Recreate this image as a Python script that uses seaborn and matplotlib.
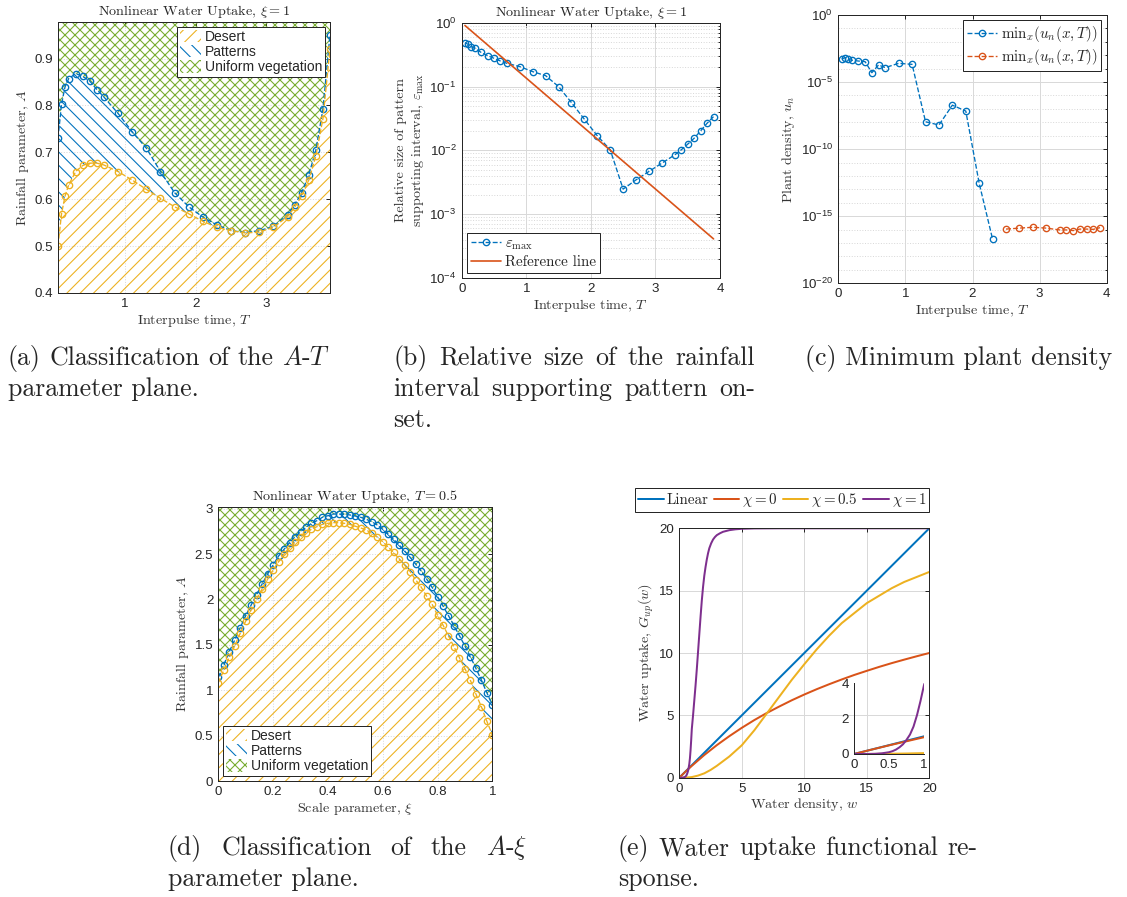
import numpy as np
import matplotlib
matplotlib.use('Agg')
import matplotlib.pyplot as plt
import seaborn as sns
from matplotlib.ticker import FixedLocator, FuncFormatter, NullFormatter

# ---------------- data ----------------
# (a) A-T plane, xi = 1
T_a = [0.05, 0.1, 0.15, 0.2, 0.3, 0.4, 0.5, 0.6, 0.7, 0.9, 1.1, 1.3, 1.5, 1.7, 1.9,
       2.1, 2.3, 2.5, 2.7, 2.9, 3.1, 3.3, 3.4, 3.5, 3.6, 3.7, 3.8, 3.9]
A_pattern_a = [0.730, 0.803, 0.840, 0.857, 0.868, 0.862, 0.852, 0.834, 0.818, 0.783,
               0.744, 0.709, 0.659, 0.614, 0.584, 0.562, 0.545, 0.533, 0.529, 0.533,
               0.542, 0.567, 0.588, 0.614, 0.652, 0.705, 0.792, 0.951]
A_desert_a = [0.501, 0.569, 0.607, 0.630, 0.659, 0.672, 0.677, 0.677, 0.673, 0.659,
              0.641, 0.621, 0.602, 0.584, 0.569, 0.553, 0.540, 0.533, 0.528, 0.530,
              0.540, 0.563, 0.583, 0.607, 0.641, 0.692, 0.772, 0.921]

# (b) relative size of pattern supporting interval
T_b = T_a
eps_max = [0.486, 0.458, 0.420, 0.396, 0.343, 0.305, 0.277, 0.251, 0.231, 0.205,
           0.171, 0.148, 0.0998, 0.056, 0.0307, 0.0169, 0.0102, 0.00247, 0.00345,
           0.00467, 0.0063, 0.0085, 0.0102, 0.0125, 0.0155, 0.0202, 0.0266, 0.0338]
T_ref = [0.05, 3.9]
eps_ref = [0.905, 4.1e-4]

# (c) minimum plant density
T_c1 = [0.05, 0.1, 0.15, 0.2, 0.3, 0.4, 0.5, 0.6, 0.7, 0.9, 1.1, 1.3, 1.5, 1.7, 1.9, 2.1, 2.3]
un_c1 = [5.2e-4, 6.6e-4, 5.0e-4, 4.2e-4, 3.7e-4, 3.3e-4, 5.0e-5, 1.9e-4, 1.2e-4, 2.5e-4,
         2.1e-4, 1.1e-8, 6.3e-9, 1.9e-7, 6.9e-8, 2.8e-13, 1.9e-17]
T_c2 = [2.5, 2.7, 2.9, 3.1, 3.3, 3.4, 3.5, 3.6, 3.7, 3.8, 3.9]
un_c2 = [1.1e-16, 1.3e-16, 1.5e-16, 1.3e-16, 9.5e-17, 9.5e-17, 8.5e-17, 1.1e-16,
         1.1e-16, 1.05e-16, 1.4e-16]

# (d) A-xi plane, T = 0.5
xi_d = [round(0.02 * k, 2) for k in range(51)]
A_pattern_d = [1.143, 1.280, 1.426, 1.555, 1.691, 1.823, 1.941, 2.055, 2.173, 2.283,
               2.382, 2.481, 2.555, 2.628, 2.694, 2.749, 2.798, 2.842, 2.871, 2.908,
               2.926, 2.944, 2.944, 2.941, 2.934, 2.923, 2.908, 2.886, 2.860, 2.823,
               2.776, 2.724, 2.665, 2.603, 2.537, 2.467, 2.393, 2.316, 2.228, 2.136,
               2.033, 1.930, 1.824, 1.713, 1.603, 1.489, 1.371, 1.243, 1.114, 0.974, 0.838]
A_desert_d = [1.085, 1.220, 1.364, 1.492, 1.629, 1.765, 1.886, 2.004, 2.118, 2.225,
              2.327, 2.419, 2.503, 2.573, 2.639, 2.694, 2.738, 2.776, 2.805, 2.831,
              2.842, 2.849, 2.849, 2.842, 2.830, 2.810, 2.790, 2.770, 2.730, 2.690,
              2.640, 2.580, 2.520, 2.450, 2.380, 2.310, 2.220, 2.140, 2.040, 1.950,
              1.830, 1.720, 1.600, 1.480, 1.360, 1.240, 1.110, 0.960, 0.820, 0.660, 0.510]

# (e) water uptake functional response
w_lin = [0, 20]
G_lin = [0, 20]
w_c0 = [0, 0.25, 0.5, 0.75, 1, 2, 3, 4, 5, 6, 7, 8, 9, 10, 11, 12, 13, 14, 15, 16, 17, 18, 19, 20]
G_c0 = [0, 0.247, 0.488, 0.72, 0.95, 1.82, 2.61, 3.33, 4.0, 4.62, 5.19, 5.71, 6.21, 6.67,
        7.10, 7.5, 7.88, 8.24, 8.57, 8.89, 9.19, 9.47, 9.74, 10.0]
w_c05 = [0, 0.25, 0.5, 0.75, 1, 1.5, 2, 2.5, 3, 4, 5, 6, 7, 8, 9, 10, 11, 12, 13, 14, 15,
         16, 17, 18, 19, 20]
G_c05 = [0, 0.003, 0.012, 0.028, 0.05, 0.17, 0.35, 0.62, 0.95, 1.7, 2.6, 3.8, 5.15, 6.5,
         7.85, 9.1, 10.3, 11.4, 12.4, 13.2, 14.0, 14.6, 15.2, 15.7, 16.1, 16.5]
w_c1 = [0, 0.2, 0.3, 0.4, 0.5, 0.55, 0.6, 0.65, 0.7, 0.75, 0.8, 0.85, 0.9, 0.95, 1.0, 1.1,
        1.2, 1.3, 1.4, 1.5, 1.6, 1.7, 1.8, 1.9, 2.0, 2.1, 2.2, 2.3, 2.4, 2.55, 2.7, 2.85,
        3.0, 3.25, 3.5, 4.0, 4.5, 5, 6, 8, 10, 15, 20]
G_c1 = [0, 0.002, 0.01, 0.04, 0.1, 0.16, 0.25, 0.38, 0.55, 0.8, 1.1, 1.55, 2.2, 3.0, 3.9,
        5.0, 6.2, 7.4, 8.7, 10.1, 11.5, 12.9, 14.2, 15.3, 16.2, 16.9, 17.5, 18.0, 18.4,
        18.8, 19.1, 19.3, 19.45, 19.6, 19.72, 19.85, 19.92, 19.96, 19.99, 20, 20, 20, 20]

# ---------------- style ----------------
sns.set_theme(style='white')
plt.rcParams['font.family'] = ['Liberation Sans', 'DejaVu Sans']
plt.rcParams['mathtext.fontset'] = 'cm'
plt.rcParams['hatch.linewidth'] = 0.65
plt.rcParams['axes.unicode_minus'] = True

W, H, DPI = 1127, 897, 120
fig = plt.figure(figsize=(W / DPI, H / DPI), dpi=DPI)
fig.patch.set_facecolor('white')

SERIF = 'cmr10'
BLUE, RED, YEL, PUR, GRN = '#0072BD', '#D95319', '#EDB120', '#7E2F8E', '#77AC30'
AXC = '#262626'
GRIDC = '#d9d9d9'
TICK = 8
LAB = 8.5
CAP = 15.5


def add_ax(x0, y0, x1, y1):
    return fig.add_axes([x0 / W, 1 - y1 / H, (x1 - x0) / W, (y1 - y0) / H])


def style(ax, box=True):
    for s in ax.spines.values():
        s.set_color(AXC)
        s.set_linewidth(0.6)
    if not box:
        ax.spines['top'].set_visible(False)
        ax.spines['right'].set_visible(False)
    ax.tick_params(which='both', direction='in', length=2.5, width=0.6, colors=AXC,
                   labelsize=TICK, top=box, right=box, pad=3)
    ax.tick_params(which='minor', length=1.5)
    ax.set_axisbelow(True)


def gfmt(v, p):
    return '%g' % v


def logfmt(v, p):
    return r'$\mathdefault{10^{%d}}$' % int(round(np.log10(v)))


def series(ax, x, y, color, label=None):
    sns.lineplot(x=x, y=y, ax=ax, color=color, linestyle='--', linewidth=0.8,
                 marker='o', markersize=3.8, markerfacecolor='none',
                 markeredgecolor=color, markeredgewidth=0.8,
                 estimator=None, sort=False, label=label, legend=False)


def curve(ax, x, y, color, label=None, lw=1.2):
    sns.lineplot(x=x, y=y, ax=ax, color=color, linewidth=lw, estimator=None,
                 sort=False, label=label, legend=False)


def regions(ax, x, low, high, ybot, ytop):
    h1 = ax.fill_between(x, ybot, low, facecolor='none', edgecolor=YEL, hatch='///',
                         linewidth=0, label='Desert', zorder=1)
    h2 = ax.fill_between(x, low, high, facecolor='none', edgecolor=BLUE, hatch='\\\\\\',
                         linewidth=0, label='Patterns', zorder=1)
    h3 = ax.fill_between(x, high, ytop, facecolor='none', edgecolor=GRN, hatch='xxxx',
                         linewidth=0, label='Uniform vegetation', zorder=1)
    return [h1, h2, h3]


def legend_frame(leg):
    fr = leg.get_frame()
    fr.set_edgecolor(AXC)
    fr.set_linewidth(0.6)
    fr.set_alpha(1)


# ---------------- (a) ----------------
ax = add_ax(58, 22, 330, 293)
style(ax)
ya0, ya1 = 0.4, 0.978
hs = regions(ax, T_a, A_desert_a, A_pattern_a, ya0, ya1)
series(ax, T_a, A_pattern_a, BLUE)
series(ax, T_a, A_desert_a, YEL)
ax.set_xlim(0.05, 3.9)
ax.set_ylim(ya0, ya1)
ax.xaxis.set_major_locator(FixedLocator([1, 2, 3]))
ax.yaxis.set_major_locator(FixedLocator([0.4, 0.5, 0.6, 0.7, 0.8, 0.9]))
ax.xaxis.set_major_formatter(FuncFormatter(gfmt))
ax.yaxis.set_major_formatter(FuncFormatter(gfmt))
ax.grid(True, color=GRIDC, ls=':', lw=0.6)
ax.set_xlabel('Interpulse time, $T$', family=SERIF, fontsize=LAB, color='#333333', labelpad=1)
ax.set_ylabel('Rainfall parameter, $A$', family=SERIF, fontsize=LAB, color='#333333', labelpad=2)
ax.set_title(r'Nonlinear Water Uptake, $\xi = 1$', family=SERIF, fontsize=LAB, pad=4)
leg = ax.legend(handles=hs, loc='upper right', fontsize=8.3, fancybox=False,
                handlelength=1.5, handleheight=1.0, handletextpad=0.3,
                borderpad=0.2, labelspacing=0.1, borderaxespad=0.35)
legend_frame(leg)

# ---------------- (b) ----------------
ax = add_ax(461.7, 22.7, 720, 278)
style(ax)
ax.set_yscale('log')
series(ax, T_b, eps_max, BLUE, label=r'$\varepsilon_{\mathrm{max}}$')
curve(ax, T_ref, eps_ref, RED, label='Reference line', lw=1.0)
ax.set_xlim(0, 4)
ax.set_ylim(1e-4, 1)
ax.xaxis.set_major_locator(FixedLocator([0, 1, 2, 3, 4]))
ax.xaxis.set_major_formatter(FuncFormatter(gfmt))
ax.yaxis.set_major_locator(FixedLocator([1e-4, 1e-3, 1e-2, 1e-1, 1]))
ax.yaxis.set_major_formatter(FuncFormatter(logfmt))
ax.yaxis.set_minor_locator(FixedLocator([m * 10.0 ** e for e in range(-4, 0) for m in range(2, 10)]))
ax.yaxis.set_minor_formatter(NullFormatter())
ax.grid(True, which='major', color=GRIDC, ls='-', lw=0.6)
ax.grid(True, which='minor', axis='y', color=GRIDC, ls=':', lw=0.6)
ax.set_xlabel('Interpulse time, $T$', family=SERIF, fontsize=LAB, color='#333333', labelpad=1)
ax.set_ylabel('Relative size of pattern\nsupporting interval, $\\varepsilon_{\\mathrm{max}}$',
              family=SERIF, fontsize=LAB, color='#333333', labelpad=2, multialignment='center')
ax.set_title(r'Nonlinear Water Uptake, $\xi = 1$', family=SERIF, fontsize=LAB, pad=4)
leg = ax.legend(loc='lower left', prop={'family': SERIF, 'size': 9}, fancybox=False,
                handlelength=2.0, handletextpad=0.3, borderpad=0.25, labelspacing=0.2,
                borderaxespad=0.35)
legend_frame(leg)

# ---------------- (c) ----------------
ax = add_ax(838.3, 15, 1106.7, 283.3)
style(ax)
ax.set_yscale('log')
series(ax, T_c1, un_c1, BLUE, label=r'$\mathrm{min}_x(u_n(x,T))$')
series(ax, T_c2, un_c2, RED, label=r'$\mathrm{min}_x(u_n(x,T))$')
ax.set_xlim(0, 4)
ax.set_ylim(1e-20, 1)
ax.xaxis.set_major_locator(FixedLocator([0, 1, 2, 3, 4]))
ax.xaxis.set_major_formatter(FuncFormatter(gfmt))
ax.yaxis.set_major_locator(FixedLocator([1e-20, 1e-15, 1e-10, 1e-5, 1]))
ax.yaxis.set_major_formatter(FuncFormatter(logfmt))
ax.yaxis.set_minor_locator(FixedLocator([10.0 ** e for e in range(-20, 1) if e % 5 != 0]))
ax.yaxis.set_minor_formatter(NullFormatter())
ax.grid(True, which='major', color=GRIDC, ls='-', lw=0.6)
ax.grid(True, which='minor', axis='y', color=GRIDC, ls=':', lw=0.6)
ax.set_xlabel('Interpulse time, $T$', family=SERIF, fontsize=LAB, color='#333333', labelpad=1)
ax.set_ylabel('Plant density, $u_n$', family=SERIF, fontsize=LAB, color='#333333', labelpad=2)
leg = ax.legend(loc='upper right', prop={'family': SERIF, 'size': 9}, fancybox=False,
                handlelength=2.0, handletextpad=0.3, borderpad=0.25, labelspacing=0.2,
                borderaxespad=0.35)
legend_frame(leg)

# ---------------- (d) ----------------
ax = add_ax(218.3, 506.7, 492.3, 781)
style(ax)
yd0, yd1 = 0, 3.025
hs = regions(ax, xi_d, A_desert_d, A_pattern_d, yd0, yd1)
series(ax, xi_d, A_pattern_d, BLUE)
series(ax, xi_d, A_desert_d, YEL)
ax.set_xlim(0, 1)
ax.set_ylim(yd0, yd1)
ax.xaxis.set_major_locator(FixedLocator([0, 0.2, 0.4, 0.6, 0.8, 1]))
ax.yaxis.set_major_locator(FixedLocator([0, 0.5, 1, 1.5, 2, 2.5, 3]))
ax.xaxis.set_major_formatter(FuncFormatter(gfmt))
ax.yaxis.set_major_formatter(FuncFormatter(gfmt))
ax.grid(True, color=GRIDC, ls=':', lw=0.6)
ax.set_xlabel(r'Scale parameter, $\xi$', family=SERIF, fontsize=LAB, color='#333333', labelpad=1)
ax.set_ylabel('Rainfall parameter, $A$', family=SERIF, fontsize=LAB, color='#333333', labelpad=2)
ax.set_title(r'Nonlinear Water Uptake, $T = 0.5$', family=SERIF, fontsize=LAB, pad=4)
leg = ax.legend(handles=hs, loc='lower left', fontsize=8.3, fancybox=False,
                handlelength=1.5, handleheight=1.0, handletextpad=0.3,
                borderpad=0.2, labelspacing=0.1, borderaxespad=0.35)
legend_frame(leg)

# ---------------- (e) ----------------
ax = add_ax(679.3, 528.3, 929.3, 777.7)
style(ax)
curve(ax, w_lin, G_lin, BLUE, label='Linear')
curve(ax, w_c0, G_c0, RED, label=r'$\chi = 0$')
curve(ax, w_c05, G_c05, YEL, label=r'$\chi = 0.5$')
curve(ax, w_c1, G_c1, PUR, label=r'$\chi = 1$')
ax.set_xlim(0, 20)
ax.set_ylim(0, 20)
ax.xaxis.set_major_locator(FixedLocator([0, 5, 10, 15, 20]))
ax.yaxis.set_major_locator(FixedLocator([0, 5, 10, 15, 20]))
ax.xaxis.set_major_formatter(FuncFormatter(gfmt))
ax.yaxis.set_major_formatter(FuncFormatter(gfmt))
ax.grid(True, color=GRIDC, ls='-', lw=0.6)
ax.set_xlabel('Water density, $w$', family=SERIF, fontsize=LAB, color='#333333', labelpad=1)
ax.set_ylabel('Water uptake, $G_{up}(w)$', family=SERIF, fontsize=LAB, color='#333333', labelpad=2)
leg = ax.legend(loc='lower right', bbox_to_anchor=(1.0, 1.0 + 16 / 249.4), ncol=4,
                prop={'family': SERIF, 'size': 9}, fancybox=False, handlelength=1.7,
                handletextpad=0.2, columnspacing=0.35, borderpad=0.2, borderaxespad=0)
legend_frame(leg)

axi = add_ax(854, 683.3, 924, 754)
style(axi, box=False)
axi.set_facecolor('none')
curve(axi, w_lin, G_lin, BLUE)
curve(axi, w_c0, G_c0, RED)
curve(axi, w_c05, G_c05, YEL)
curve(axi, w_c1, G_c1, PUR)
axi.set_xlim(0, 1)
axi.set_ylim(0, 4)
axi.xaxis.set_major_locator(FixedLocator([0, 0.5, 1]))
axi.yaxis.set_major_locator(FixedLocator([0, 2, 4]))
axi.xaxis.set_major_formatter(FuncFormatter(gfmt))
axi.yaxis.set_major_formatter(FuncFormatter(gfmt))
axi.set_xlabel('')
axi.set_ylabel('')

# ---------------- captions ----------------
renderer = fig.canvas.get_renderer()


def caption(lines, x0, x1, y0, dy=31):
    for i, line in enumerate(lines):
        yb = 1 - (y0 + i * dy) / H
        words = line.split(' ')
        if i < len(lines) - 1 and len(words) > 1:
            ts = [fig.text(0, yb, wd, family=SERIF, fontsize=CAP, va='baseline', ha='left')
                  for wd in words]
            ws = [t.get_window_extent(renderer).width for t in ts]
            gap = ((x1 - x0) - sum(ws)) / (len(words) - 1)
            x = x0
            for t, wdt in zip(ts, ws):
                t.set_x(x / W)
                x += wdt + gap
        else:
            fig.text(x0 / W, yb, line, family=SERIF, fontsize=CAP, va='baseline', ha='left')


caption(['(a) Classification of the $A$-$T$', 'parameter plane.'], 8, 330, 365)
caption(['(b) Relative size of the rainfall', 'interval supporting pattern on-', 'set.'], 393, 755, 365)
caption(['(c) Minimum plant density'], 805, 1113, 365)
caption([r'(d) Classification of the $A$-$\xi$', 'parameter plane.'], 168, 527, 855)
caption(['(e) Water uptake functional re-', 'sponse.'], 618, 978, 855)

fig.savefig('out.png', dpi=DPI, facecolor='white')
